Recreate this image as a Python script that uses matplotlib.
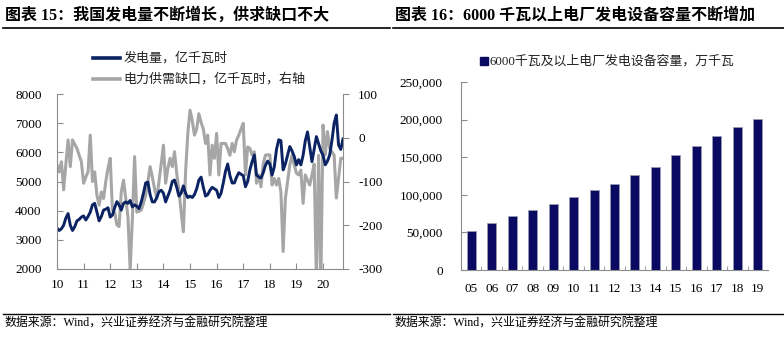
import numpy as np
import matplotlib
matplotlib.use('Agg')
import matplotlib.pyplot as plt
from matplotlib.ticker import FuncFormatter, MultipleLocator

plt.rcParams['font.family'] = ['Liberation Serif', 'Noto Sans CJK SC']
plt.rcParams['axes.unicode_minus'] = False

# monthly series, Jan 2010 onwards
gen = [3400, 3320, 3380, 3500, 3750, 3900, 3500, 3320, 3450, 3650, 3700, 3780,
       3820, 3680, 3800, 3950, 4200, 4250, 3950, 3650, 3800, 4020, 4050, 4100,
       3780, 3850, 4100, 4310, 4200, 4020, 4250, 4300, 4250, 4350, 4130, 4200,
       4150, 4070, 4300, 4600, 4950, 4980, 4550, 4300, 4300, 4450, 4650, 4700,
       4600, 4300, 4500, 4700, 5000, 5050, 4800, 4500, 4600, 4850, 4600, 4450,
       4500, 4450, 4550, 4750, 5050, 5150, 4800, 4500, 4550, 4700, 4800, 4750,
       4700, 4450, 4600, 4950, 5350, 5600, 5200, 4950, 4950, 5150, 5300, 5250,
       5200, 4820, 5000, 5400, 5680, 5910, 5220, 5150, 5120, 5300, 5550, 5700,
       5600, 5220, 5500, 6100, 6430, 6400, 5400, 5600, 5900, 6200, 6050, 5860,
       5570, 5750, 5570, 5900, 6400, 6700, 6200, 5680, 6100, 6540, 6300, 6050,
       5900, 5570, 5700, 5910, 6400, 7000, 7280, 6250, 6100, 6460]
gap = [-62, -78, -55, -119, -60, -5, -66, -5, -15, -24, -40, -55,
       -104, -90, -78, 6, -100, -78, -131, -154, -124, -139, -100, -70,
       -47, -165, -170, -199, -203, -124, -97, -139, -180, -302, -184, -43,
       -170, -168, -165, -150, -131, -100, -66, -90, -116, -139, -100, -60,
       -17, -104, -70, -47, -66, -32, -81, -120, -170, -215, -78, 10,
       63, 40, 6, 20, 55, 35, 20, -13, 6, -85, -17, -47,
       10, -85, -13, -13, -13, -25, -40, -13, -32, -5, 6, 20,
       33, -85, -21, -24, -40, -32, -104, -85, -112, -60, -40, -39,
       -39, -108, -93, -108, -93, -124, -260, -139, -100, -62, -40, -62,
       -81, -85, -74, -150, -85, -97, -108, -85, -60, -330, -40, -330,
       29, -39, 14, -24, -32, -40, -138, -93, -47, -47]
year_labels = ['10', '11', '12', '13', '14', '15', '16', '17', '18', '19', '20']

# yearly installed capacity
cap_years = ['05', '06', '07', '08', '09', '10', '11', '12', '13', '14', '15', '16', '17', '18', '19']
capacity = [51718, 62370, 71822, 79273, 87410, 96641, 106253, 114676,
            125768, 137018, 152527, 165051, 177708, 190012, 201066]

navy = '#0B2263'
grey = '#A6A6A6'
bar_col = '#0A0A62'
spine = '#8C8C8C'
cjk = ['Noto Sans CJK SC', 'DejaVu Sans']
mixed = ['Liberation Serif', 'Noto Sans CJK SC']

fig = plt.figure(figsize=(7.84, 3.39), dpi=100)

# header and footer
fig.text(0.006, 0.955, '图表 15：我国发电量不断增长，供求缺口不大', fontsize=11.5,
         fontweight='bold', family=mixed, va='center', ha='left')
fig.text(0.504, 0.955, '图表 16：6000 千瓦以上电厂发电设备容量不断增加', fontsize=11.5,
         fontweight='bold', family=mixed, va='center', ha='left')
fig.add_artist(plt.Line2D([0.004, 0.498], [0.918, 0.918], color='black', lw=1.2))
fig.add_artist(plt.Line2D([0.501, 1.0], [0.918, 0.918], color='black', lw=1.2))
fig.add_artist(plt.Line2D([0.004, 0.498], [0.075, 0.075], color='black', lw=1.0))
fig.add_artist(plt.Line2D([0.501, 1.0], [0.075, 0.075], color='black', lw=1.0))
fig.text(0.006, 0.045, '数据来源：Wind，兴业证券经济与金融研究院整理', fontsize=8.6,
         family=mixed, va='center', ha='left')
fig.text(0.503, 0.045, '数据来源：Wind，兴业证券经济与金融研究院整理', fontsize=8.6,
         family=mixed, va='center', ha='left')

# left panel: generation and supply-demand gap
ax = fig.add_axes([0.0727, 0.2065, 0.3648, 0.5162])
x = np.arange(len(gen))
ax2 = ax.twinx()
ax2.plot(x, gap, color=grey, lw=2.2, solid_joinstyle='round')
ax.plot(x, gen, color=navy, lw=2.1, solid_joinstyle='round')
ax.set_zorder(ax2.get_zorder() + 1)
ax.patch.set_visible(False)

ax.set_xlim(0, len(gen) - 1)
ax.set_ylim(2000, 8000)
ax2.set_ylim(-300, 100)
ax.set_yticks(np.arange(2000, 8001, 1000))
ax2.set_yticks(np.arange(-300, 101, 100))
ax.set_xticks(np.arange(0, len(gen), 12))
ax.set_xticklabels(year_labels)

for a in (ax, ax2):
    for s in a.spines.values():
        s.set_color(spine)
    a.spines['top'].set_visible(False)
ax.spines['right'].set_visible(False)
ax2.spines['left'].set_visible(False)
ax2.spines['bottom'].set_visible(False)
ax.tick_params(axis='y', direction='in', length=4, color=spine, labelsize=9.5, pad=11)
ax.tick_params(axis='x', direction='in', length=4, color=spine, labelsize=9.5, pad=7)
ax2.tick_params(axis='y', direction='out', length=4, color=spine, labelsize=9.5, pad=7)

# legend drawn by hand above the plot
fig.add_artist(plt.Line2D([0.118, 0.153], [0.829, 0.829], color=navy, lw=2.6))
fig.add_artist(plt.Line2D([0.118, 0.153], [0.767, 0.767], color=grey, lw=2.6))
fig.text(0.158, 0.829, '发电量，亿千瓦时', fontsize=9.4, family=cjk, va='center', color='#222222')
fig.text(0.158, 0.767, '电力供需缺口，亿千瓦时，右轴', fontsize=9.4, family=cjk, va='center', color='#222222')

# right panel: capacity bars
bx = fig.add_axes([0.588, 0.2035, 0.3916, 0.5545])
bpos = np.arange(len(capacity))
bx.bar(bpos, capacity, width=0.44, color=bar_col, edgecolor='#9A9AB0', linewidth=0.6)
bx.set_xlim(-0.5, len(capacity) - 0.5)
bx.set_ylim(0, 250000)
bx.yaxis.set_major_locator(MultipleLocator(50000))
bx.yaxis.set_major_formatter(FuncFormatter(lambda v, p: f'{int(v):,}'))
bx.set_xticks(bpos)
bx.set_xticklabels(cap_years)
bx.set_xticks(np.arange(0.5, len(capacity) - 0.5, 1), minor=True)
for s in ('top', 'right'):
    bx.spines[s].set_visible(False)
for s in ('left', 'bottom'):
    bx.spines[s].set_color(spine)
bx.tick_params(axis='x', which='major', length=0, labelsize=9.5, pad=9)
bx.tick_params(axis='x', which='minor', direction='in', length=3, color=spine)
bx.tick_params(axis='y', direction='in', length=4, color=spine, labelsize=9.5, pad=13)

fig.add_artist(plt.Rectangle((0.6125, 0.807), 0.0105, 0.024, color=bar_col,
                             transform=fig.transFigure))
fig.text(0.625, 0.819, '6000千瓦及以上电厂发电设备容量，万千瓦', fontsize=9.3,
         family=mixed, va='center', color='#222222')

fig.savefig('out.png', dpi=100)
